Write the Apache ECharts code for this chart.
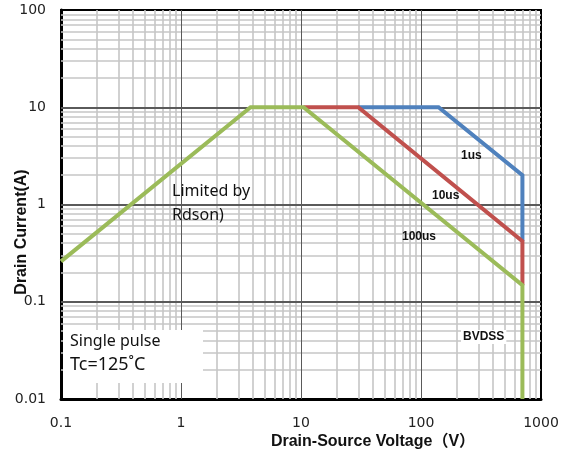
<!DOCTYPE html>
<html>
<head>
<meta charset="utf-8">
<style>
  html, body { margin: 0; padding: 0; background: #fff; }
  #chart { width: 565px; height: 455px; }
</style>
<script src="https://cdn.jsdelivr.net/npm/echarts@6/dist/echarts.min.js"></script>
</head>
<body>
<div id="chart"></div>
<script>
// SOA curves, [V, A]
const pulse1us = [[30, 10], [140, 10], [700, 2], [700, 0.42]]
const pulse10us = [[10.5, 10], [30, 10], [700, 0.42], [700, 0.148]]
const pulse100us = [[0.1, 0.26], [3.8, 10], [10.5, 10], [700, 0.148], [700, 0.01]]

const xMinor = [0.2, 0.3, 0.4, 0.5, 0.6, 0.7, 0.8, 0.9, 2, 3, 4, 5, 6, 7, 8, 9,
  20, 30, 40, 50, 60, 70, 80, 90, 200, 300, 400, 500, 600, 700, 800, 900]
const yMinor = [0.02, 0.03, 0.04, 0.05, 0.06, 0.07, 0.08, 0.09, 0.2, 0.3, 0.4, 0.5, 0.6, 0.7, 0.8, 0.9,
  2, 3, 4, 5, 6, 7, 8, 9, 20, 30, 40, 50, 60, 70, 80, 90]
const xMajor = [1, 10, 100]
const yMajor = [0.1, 1, 10]

const chart = echarts.init(document.getElementById('chart'))

const tickFont = { color: '#222', fontSize: 14, fontFamily: 'DejaVu Sans' }

function gridLines(xs, ys, color, wx, wy, z) {
  const data = []
  xs.forEach(v => data.push({ xAxis: v, lineStyle: { color: color, width: wx } }))
  ys.forEach(v => data.push({ yAxis: v, lineStyle: { color: color, width: wy } }))
  return {
    type: 'line', data: [], z: z, silent: true,
    markLine: {
      silent: true, symbol: ['none', 'none'], animation: false,
      label: { show: false },
      lineStyle: { type: 'solid' },
      emphasis: { disabled: true },
      data: data
    }
  }
}

function curve(name, data, color) {
  return {
    name: name, type: 'line', data: data, z: 5,
    showSymbol: false, symbol: 'none', animation: false,
    lineStyle: { color: color, width: 4, cap: 'butt', join: 'miter' }
  }
}

chart.setOption({
  animation: false,
  grid: {
    left: 61, right: 24, top: 10, bottom: 56,
    show: true, borderColor: '#000', borderWidth: 2
  },
  xAxis: {
    type: 'log', logBase: 10, min: 0.1, max: 1000,
    axisLine: { lineStyle: { color: '#000', width: 3 } },
    axisTick: { show: false },
    axisLabel: Object.assign({ margin: 17, formatter: v => String(+v.toPrecision(3)) }, tickFont),
    splitLine: { show: false }
  },
  yAxis: {
    type: 'log', logBase: 10, min: 0.01, max: 100,
    axisLine: { lineStyle: { color: '#000', width: 3 } },
    axisTick: { show: false },
    axisLabel: Object.assign({ margin: 15, formatter: v => String(+v.toPrecision(3)) }, tickFont),
    splitLine: { show: false }
  },
  series: [
    gridLines(xMinor, yMinor, '#c6c6c6', 1.6, 1.6, 1),
    gridLines(xMajor, yMajor, '#5a5a5a', 1, 2, 2),
    curve('1us', pulse1us, '#4F81BD'),
    curve('10us', pulse10us, '#C0504D'),
    curve('100us', pulse100us, '#9BBB59')
  ],
  graphic: [
    { type: 'rect', z: 10, shape: { x: 63, y: 330, width: 140, height: 53 }, style: { fill: '#fff' } },
    { type: 'text', z: 11, left: 70, top: 333, style: { text: 'Single pulse', font: '16px "Noto Sans"', fill: '#111' } },
    { type: 'text', z: 11, left: 70, top: 356, style: { text: 'Tc=125˚C', font: '18px "Noto Sans"', fill: '#111' } },
    { type: 'text', z: 11, left: 172, top: 183, style: { text: 'Limited by', font: '16px "Noto Sans"', fill: '#111' } },
    { type: 'text', z: 11, left: 172, top: 207, style: { text: 'Rdson)', font: '16px "Noto Sans"', fill: '#111' } },
    { type: 'text', z: 11, left: 461, top: 150, style: { text: '1us', font: 'bold 12px "Liberation Sans"', fill: '#111' } },
    { type: 'text', z: 11, left: 432, top: 190, style: { text: '10us', font: 'bold 12px "Liberation Sans"', fill: '#111' } },
    { type: 'text', z: 11, left: 402, top: 231, style: { text: '100us', font: 'bold 12px "Liberation Sans"', fill: '#111' } },
    { type: 'text', z: 11, left: 461, top: 330, style: { text: 'BVDSS', font: 'bold 12px "Liberation Sans"', fill: '#111', backgroundColor: '#fff', padding: [1, 2] } },
    { type: 'text', z: 11, x: 22, y: 232, rotation: Math.PI / 2,
      style: { text: 'Drain Current(A)', font: 'bold 16px "Liberation Sans"', fill: '#111', align: 'center', verticalAlign: 'middle' } },
    { type: 'text', z: 11, x: 373, y: 442,
      style: { text: 'Drain-Source Voltage（V）', font: 'bold 16px "Liberation Sans", "Noto Sans CJK SC"', fill: '#111', align: 'center', verticalAlign: 'middle' } }
  ]
})
</script>
</body>
</html>
